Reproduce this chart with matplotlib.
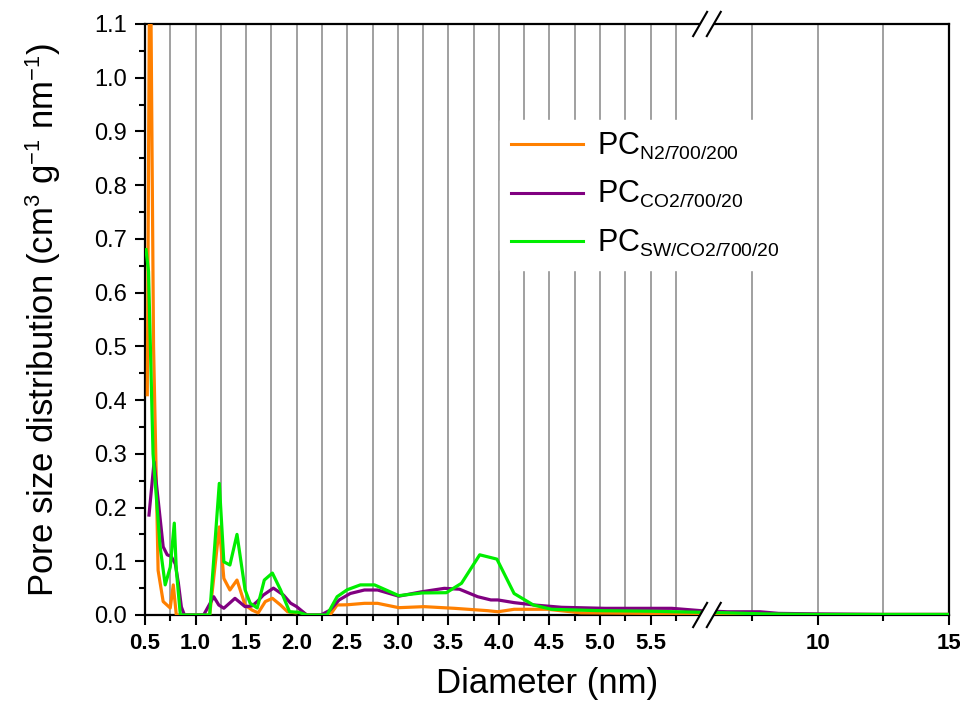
import numpy as np
import matplotlib
matplotlib.use("Agg")
import matplotlib.pyplot as plt
import matplotlib._mathtext as mathtext_internal
from matplotlib.patches import Polygon
from matplotlib.lines import Line2D

plt.rcParams['font.family'] = ['Liberation Sans', 'DejaVu Sans']
plt.rcParams['mathtext.default'] = 'regular'
mathtext_internal.SHRINK_FACTOR = 0.63  # smaller sub/superscripts, like the original

# pore size distribution (nm, cm3 g-1 nm-1)
x_n2 = [0.523, 0.55, 0.585, 0.63, 0.68, 0.75, 0.78, 0.81, 0.85, 1.10, 1.14, 1.235, 1.28, 1.34,
        1.41, 1.49, 1.56, 1.62, 1.69, 1.76, 1.84, 1.91, 1.99, 2.05, 2.1, 2.33, 2.4, 2.5, 2.67,
        2.8, 3.01, 3.26, 3.56, 3.89, 3.99, 4.15, 4.48, 4.81, 5.5, 6.0, 7.0, 8.0, 10, 12.5, 15]
y_n2 = [0.41, 1.35, 0.50, 0.083, 0.025, 0.013, 0.056, 0.0, 0.0, 0.0, 0.0, 0.164, 0.068, 0.0465,
        0.065, 0.0186, 0.009, 0.004, 0.025, 0.031, 0.0186, 0.006, 0.004, 0.006, 0.0, 0.0, 0.0186,
        0.019, 0.0217, 0.0217, 0.0136, 0.0155, 0.0124, 0.008, 0.006, 0.0106, 0.0106, 0.004,
        0.003, 0.003, 0.002, 0.002, 0.001, 0.001, 0.001]

x_co2 = [0.54, 0.59, 0.68, 0.72, 0.76, 0.80, 0.83, 0.86, 0.89, 1.08, 1.18, 1.23, 1.28, 1.39,
         1.49, 1.56, 1.61, 1.67, 1.77, 1.87, 1.94, 2.0, 2.1, 2.24, 2.33, 2.42, 2.53, 2.67, 2.8,
         3.01, 3.23, 3.46, 3.61, 3.79, 3.92, 3.99, 4.15, 4.35, 4.62, 5.05, 5.71, 6.0, 6.55, 7.8,
         8.5, 10, 12.5, 15]
y_co2 = [0.186, 0.285, 0.127, 0.112, 0.109, 0.095, 0.06, 0.015, 0.0, 0.0, 0.034, 0.0186, 0.0125,
         0.031, 0.0155, 0.017, 0.025, 0.037, 0.05, 0.037, 0.022, 0.0155, 0.0, 0.0, 0.009, 0.028,
         0.040, 0.0465, 0.0465, 0.035, 0.043, 0.0496, 0.048, 0.034, 0.028, 0.028, 0.023, 0.0186,
         0.0143, 0.0124, 0.0124, 0.008, 0.006, 0.006, 0.003, 0.002, 0.001, 0.001]

x_sw = [0.51, 0.535, 0.58, 0.65, 0.70, 0.75, 0.79, 0.81, 0.85, 1.14, 1.235, 1.28, 1.34, 1.41,
        1.49, 1.54, 1.61, 1.68, 1.76, 1.84, 1.93, 2.02, 2.1, 2.3, 2.4, 2.5, 2.63, 2.77, 3.01,
        3.24, 3.48, 3.63, 3.81, 3.98, 4.15, 4.34, 4.52, 5.0, 5.5, 6.0, 6.55, 8.0, 10, 12.5, 15]
y_sw = [0.68, 0.64, 0.30, 0.127, 0.056, 0.089, 0.171, 0.084, 0.0, 0.0, 0.245, 0.099, 0.093, 0.150,
        0.047, 0.022, 0.013, 0.065, 0.078, 0.047, 0.006, 0.005, 0.0, 0.0, 0.034, 0.047, 0.056,
        0.056, 0.036, 0.041, 0.0415, 0.059, 0.112, 0.104, 0.040, 0.0186, 0.0106, 0.008, 0.007,
        0.005, 0.004, 0.002, 0.001, 0.001, 0.001]

labels = [r'PC$_{N2/700/200}$', r'PC$_{CO2/700/20}$', r'PC$_{SW/CO2/700/20}$']
colors = ['#FF8000', '#800080', '#00EE00']

# broken x axis: linear up to BRK, compressed after it
BRK, GAP, K = 6.06, 0.071, 0.2594

def fwd(x):
    x = np.asarray(x, float)
    return np.where(x <= BRK, x, BRK + GAP + (x - BRK) * K)

def inv(u):
    u = np.asarray(u, float)
    return np.where(u <= BRK, u, BRK + np.maximum(u - BRK - GAP, 0) / K)

fig = plt.figure(figsize=(9.6, 7.03), dpi=100)
ax = fig.add_axes([0.151, 0.1252, 0.8375, 0.8407])
ax.set_xscale('function', functions=(fwd, inv))

for xs, ys, c in zip([x_n2, x_co2, x_sw], [y_n2, y_co2, y_sw], colors):
    ax.plot(xs, ys, color=c, lw=2.3, zorder=3)

ax.set_xlim(0.5, 15)
ax.set_ylim(0, 1.1)

major = list(np.arange(0.5, 5.51, 0.5)) + [10, 15]
minor = list(np.arange(0.75, 5.76, 0.5)) + [7.5, 12.5]
ax.set_xticks(major)
ax.set_xticklabels(['%.1f' % v for v in major[:-2]] + ['10', '15'], fontweight='bold', fontsize=16)
ax.set_xticks(minor, minor=True)
ax.set_yticks(np.arange(0, 1.101, 0.1))
ax.set_yticklabels(['%.1f' % v for v in np.arange(0, 1.101, 0.1)], fontsize=17)
ax.set_yticks(np.arange(0.05, 1.1, 0.1), minor=True)
ax.tick_params(which='major', direction='out', length=7, width=1.5, pad=6)
ax.tick_params(which='minor', direction='out', length=4, width=1.5)
ax.grid(True, axis='x', which='both', color='#999999', lw=1.3)
ax.set_axisbelow(True)
for s in ax.spines.values():
    s.set_linewidth(1.6)

ax.set_xlabel('Diameter (nm)', fontsize=25, labelpad=9)
ax.set_ylabel('Pore size distribution (cm$^3$ g$^{-1}$ nm$^{-1}$)', fontsize=25, labelpad=22)

handles = [Line2D([], [], color=c, lw=2.2) for c in colors]
leg = ax.legend(handles, labels, loc='upper left', bbox_to_anchor=(0.442, 0.838),
                borderaxespad=0, fontsize=22, frameon=True, fancybox=False,
                edgecolor='white', framealpha=1, handlelength=2.35, handletextpad=0.45,
                labelspacing=0.58, borderpad=0.35)

# break marks on the bottom and top spines
xb = (707 - 145) / 804
w, dx, dy = 0.0085, 0.0087, 0.0205
for yb in (0.0, 1.0):
    ax.add_patch(Polygon([(xb - w - dx, yb - dy), (xb - w + dx, yb + dy),
                          (xb + w + dx, yb + dy), (xb + w - dx, yb - dy)],
                         closed=True, transform=ax.transAxes, facecolor='white',
                         edgecolor='none', clip_on=False, zorder=5))
    for xs in (xb - w, xb + w):
        ax.plot([xs - dx, xs + dx], [yb - dy, yb + dy], color='black', lw=1.5,
                transform=ax.transAxes, clip_on=False, zorder=6)

fig.savefig('out.png', dpi=100)
